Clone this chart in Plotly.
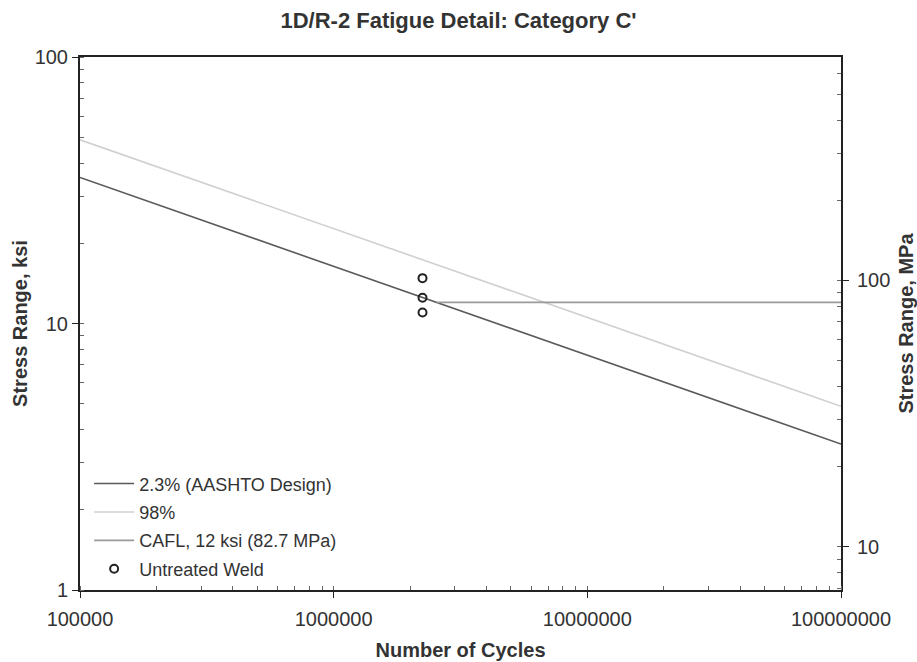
import plotly.graph_objects as go

# Data (ksi, cycles)
design_N = [1e5, 1e8]
design_S = [35.3, 3.53]          # 2.3% (AASHTO Design), C' : A = 44e8 ksi^3
upper_N = [1e5, 1e8]
upper_S = [48.9, 4.89]           # 98%
cafl_N = [2.546e6, 1e8]
cafl_S = [12.0, 12.0]            # CAFL 12 ksi
weld_N = [2.24e6, 2.24e6, 2.24e6]
weld_S = [14.8, 12.5, 11.0]      # Untreated Weld

x_ticks = [1e5, 1e6, 1e7, 1e8]
x_ticktext = ["100000", "1000000", "10000000", "100000000"]
y_ticks = [1, 10, 100]
y2_ticks = [10, 100]
KSI_TO_MPA = 6.895

FONT = "Liberation Sans, Arial, sans-serif"
AX = "#222222"
TXT = "#333333"

fig = go.Figure()
fig.add_trace(go.Scatter(x=design_N, y=design_S, mode="lines", name="2.3% (AASHTO Design)",
                         legendgroup="a", line=dict(color="#5a5a5a", width=1.6)))
fig.add_trace(go.Scatter(x=upper_N, y=upper_S, mode="lines", name="98%",
                         legendgroup="b", line=dict(color="#d0d0d0", width=1.6)))
fig.add_trace(go.Scatter(x=cafl_N, y=cafl_S, mode="lines", name="CAFL, 12 ksi (82.7 MPa)",
                         legendgroup="c", line=dict(color="#9a9a9a", width=1.6)))
fig.add_trace(go.Scatter(x=weld_N, y=weld_S, mode="markers", name="Untreated Weld",
                         legendgroup="d",
                         marker=dict(symbol="circle-open", size=8, color="#222222",
                                     line=dict(width=2, color="#222222"))))
# invisible trace to activate right axis
fig.add_trace(go.Scatter(x=[1e5], y=[10], yaxis="y2", mode="markers",
                         marker=dict(opacity=0), showlegend=False, hoverinfo="skip"))

minor = dict(ticks="inside", ticklen=4, tickcolor="#666666", dtick="D1", showgrid=False)

fig.update_layout(
    width=917, height=662,
    margin=dict(l=80, r=76, t=57, b=72, autoexpand=False),
    paper_bgcolor="white", plot_bgcolor="white",
    font=dict(family=FONT, color=TXT, size=20),
    title=dict(text="<b>1D/R-2 Fatigue Detail: Category C'</b>", x=0.5, xanchor="center",
               y=0.97, yanchor="middle", font=dict(size=22, color=TXT, family=FONT)),
    showlegend=True,
    legend=dict(x=0.012, y=0.005, xanchor="left", yanchor="bottom",
                bgcolor="rgba(0,0,0,0)", font=dict(size=18, color=TXT),
                tracegroupgap=2, itemwidth=40),
    xaxis=dict(type="log", range=[5, 8], tickvals=x_ticks, ticktext=x_ticktext,
               ticks="outside", ticklen=6, tickcolor=AX, showline=True, linecolor=AX,
               linewidth=2, mirror=True, showgrid=False, zeroline=False, minor=minor,
               ticklabelstandoff=4, automargin=False,
               title=dict(text="<b>Number of Cycles</b>", font=dict(size=20), standoff=14),
               tickfont=dict(size=20)),
    yaxis=dict(type="log", range=[0, 2], tickvals=y_ticks, ticktext=["1", "10", "100"],
               ticks="outside", ticklen=6, tickcolor=AX, showline=True, linecolor=AX,
               linewidth=2, showgrid=False, zeroline=False, minor=minor, automargin=False,
               title=dict(text="<b>Stress Range, ksi</b>", font=dict(size=20), standoff=2),
               tickfont=dict(size=20)),
    yaxis2=dict(type="log", overlaying="y", side="right",
                range=[0.83854, 2.83854], tickvals=y2_ticks, ticktext=["10", "100"],
                ticks="outside", ticklen=6, tickcolor=AX, showline=True, linecolor=AX,
                linewidth=2, showgrid=False, zeroline=False, minor=minor,
                ticklabelstandoff=4, automargin=False,
                title=dict(text="<b>Stress Range, MPa</b>", font=dict(size=20), standoff=12),
                tickfont=dict(size=20)),
)

fig.write_html("out.html", config={"displayModeBar": False},
               post_script="document.body.style.margin='0';document.body.style.overflow='hidden';")
